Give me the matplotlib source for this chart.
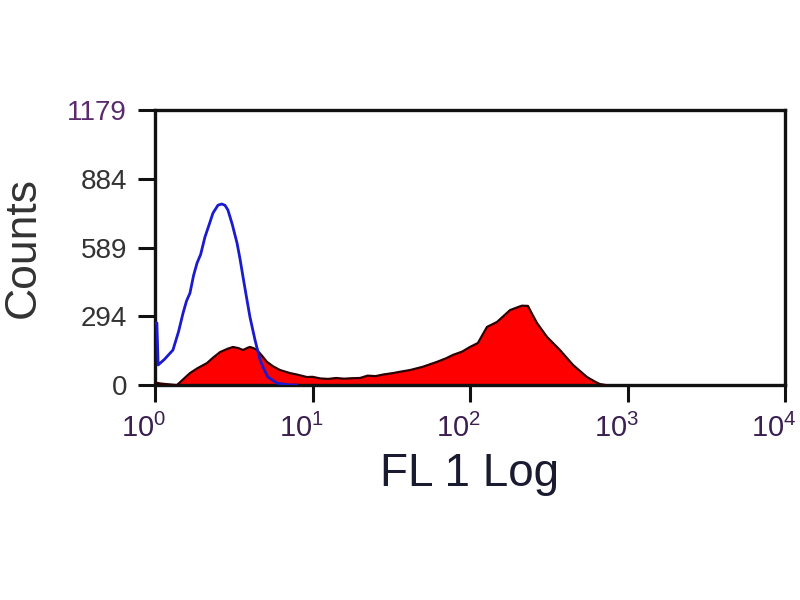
import numpy as np
import matplotlib
matplotlib.use('Agg')
import matplotlib.pyplot as plt
import matplotlib.transforms as mtransforms

plt.rcParams['font.family'] = ['Liberation Sans', 'DejaVu Sans']

# red filled histogram (stained sample), x in decades
red_log = [0.0, 0.04, 0.13, 0.14, 0.18, 0.222, 0.27, 0.33, 0.37, 0.413, 0.46, 0.495, 0.53, 0.559,
           0.59, 0.603, 0.625, 0.648, 0.68, 0.711, 0.75, 0.794, 0.857, 0.9, 0.965, 1.0, 1.05,
           1.1, 1.15, 1.2, 1.25, 1.302, 1.35, 1.4, 1.45, 1.511, 1.55, 1.619, 1.7, 1.79, 1.85,
           1.892, 1.95, 2.0, 2.05, 2.108, 2.171, 2.22, 2.254, 2.305, 2.33, 2.368, 2.39, 2.425,
           2.489, 2.571, 2.654, 2.743, 2.8, 2.825, 2.86]
red_counts = [10, 6, 0, 0, 25, 51, 72, 94, 118, 141, 155, 163, 158, 150,
              160, 163, 158, 150, 125, 99, 80, 64, 51, 45, 34, 35, 28,
              26, 30, 27, 29, 30, 40, 38, 45, 51, 56, 64, 78, 99, 115,
              129, 143, 163, 180, 249, 270, 300, 321, 334, 340, 339, 310, 266,
              206, 150, 86, 34, 12, 4, 0]

# blue open histogram (control)
blue_log = [0.0, 0.012, 0.02, 0.06, 0.114, 0.15, 0.178, 0.2, 0.222, 0.245, 0.267, 0.29, 0.317,
            0.345, 0.368, 0.4, 0.425, 0.445, 0.463, 0.49, 0.521, 0.54, 0.559, 0.58, 0.603,
            0.635, 0.667, 0.69, 0.717, 0.775, 0.857, 0.9]
blue_counts = [266, 266, 86, 110, 150, 230, 308, 360, 394, 470, 523, 560, 634,
               690, 737, 771, 776, 770, 750, 690, 608, 540, 463, 380, 291,
               193, 107, 70, 34, 8, 0, 0]

ytick_vals = [0, 294, 589, 884, 1179]
xtick_vals = [1, 10, 100, 1000, 10000]
xtick_labels = [r'$\mathregular{10^{0}}$', r'$\mathregular{10^{1}}$', r'$\mathregular{10^{2}}$',
                r'$\mathregular{10^{3}}$', r'$\mathregular{10^{4}}$']

red_x = 10 ** np.array(red_log)
blue_x = 10 ** np.array(blue_log)

fig = plt.figure(figsize=(8, 6), dpi=100)
ax = fig.add_axes([155/800, 1-385/600, 630/800, 275/600])

ax.fill_between(red_x, red_counts, 0, color='#ff0000', lw=0, zorder=2)
ax.plot(red_x, red_counts, color='#2a0000', lw=1.6, zorder=3)
ax.plot(blue_x, blue_counts, color='#1a1ad0', lw=2.0, zorder=4)

ax.set_xscale('log')
ax.set_xlim(1, 10000)
ax.set_ylim(0, 1179)
ax.set_yticks(ytick_vals)
ax.set_yticklabels([str(v) for v in ytick_vals], fontsize=20, color='#333333')
ax.get_yticklabels()[-1].set_color('#5a2a6e')
ax.set_xticks(xtick_vals)
ax.set_xticklabels(xtick_labels, fontsize=21, color='#3b2050')
ax.xaxis.set_minor_locator(matplotlib.ticker.NullLocator())
ax.tick_params(axis='both', direction='out', length=12, width=2.2, color='#111111')
ax.tick_params(axis='x', pad=9)
ax.tick_params(axis='y', pad=8)
for sp in ax.spines.values():
    sp.set_linewidth(2.4)
    sp.set_color('#111111')

off = mtransforms.ScaledTranslation(-8/72, 0, fig.dpi_scale_trans)
for lab in ax.get_xticklabels():
    lab.set_transform(lab.get_transform() + off)

ax.set_ylabel('Counts', fontsize=32, color='#333333', labelpad=17)
ax.set_xlabel('FL 1 Log', fontsize=33, color='#1a1a30', labelpad=6)

fig.savefig('out.png', dpi=100, facecolor='white')
